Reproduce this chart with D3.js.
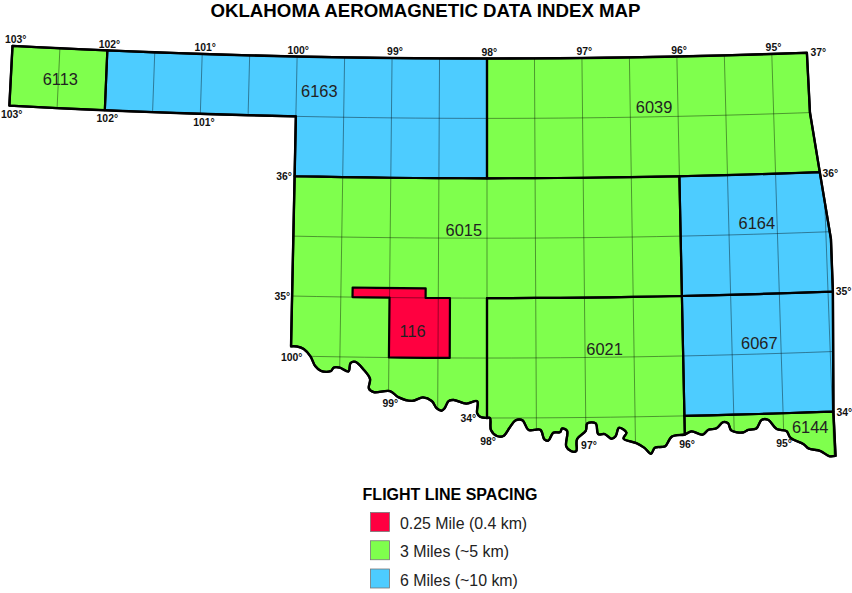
<!DOCTYPE html>
<html>
<head>
<meta charset="utf-8">
<script src="https://cdn.jsdelivr.net/npm/d3@7/dist/d3.min.js"></script>
<style>
  body { margin: 0; background: #fff; }
  text { font-family: "Liberation Sans", Arial, sans-serif; }
</style>
</head>
<body>
<svg id="map" width="852" height="593"></svg>
<script>
// everything below is [lon, lat]
var riverWest = [[-100.00,34.58],[-99.94,34.58],[-99.87,34.56],[-99.80,34.50],[-99.75,34.42],[-99.69,34.38],[-99.59,34.38],[-99.56,34.41],[-99.50,34.41],[-99.41,34.38],[-99.39,34.45],[-99.34,34.46],[-99.26,34.40],[-99.19,34.32],[-99.20,34.24],[-99.15,34.21],[-98.985,34.22],[-98.90,34.17],[-98.76,34.14],[-98.65,34.17],[-98.56,34.14],[-98.51,34.08],[-98.46,34.06],[-98.43,34.08],[-98.39,34.14],[-98.34,34.15],[-98.21,34.12],[-98.10,34.14],[-98.10,34.04],[-98.07,34.01],[-98.00,34.00]]
var riverMid = [[-98.00,34.00],[-97.97,34.00],[-97.96,33.90],[-97.90,33.85],[-97.835,33.85],[-97.77,33.92],[-97.71,33.98],[-97.64,33.98],[-97.58,33.90],[-97.46,33.90],[-97.42,33.82],[-97.38,33.81],[-97.33,33.875],[-97.26,33.88],[-97.24,33.91],[-97.19,33.89],[-97.20,33.76],[-97.15,33.72],[-97.10,33.72],[-97.09,33.82],[-97.00,33.89],[-96.985,33.95],[-96.90,33.95],[-96.875,33.86],[-96.81,33.86],[-96.74,33.82],[-96.70,33.84],[-96.665,33.91],[-96.59,33.87],[-96.62,33.82],[-96.49,33.78],[-96.41,33.74],[-96.345,33.69],[-96.305,33.74],[-96.24,33.745],[-96.20,33.75],[-96.13,33.83],[-96.00,33.845]]
var riverEast = [[-96.00,33.845],[-95.93,33.87],[-95.82,33.84],[-95.76,33.88],[-95.68,33.89],[-95.61,33.94],[-95.56,33.93],[-95.53,33.87],[-95.41,33.85],[-95.36,33.87],[-95.275,33.88],[-95.22,33.95],[-95.155,33.95],[-95.07,33.87],[-94.97,33.85],[-94.935,33.795],[-94.80,33.735],[-94.755,33.70],[-94.635,33.675],[-94.55,33.63],[-94.485,33.63]]
var eastEdge = [[-94.63,37],[-94.62,36.5],[-94.54,36],[-94.45,35.44],[-94.45,35],[-94.49,34],[-94.485,33.63]]

var blockNames = ["6113","6163","6039","6015","6164","6021","6067","6144","116"]
var blockSpacing = ["3","6","3","3","6","3","6","3","0.25"]
var blockLabelAt = [[-102.48,36.745],[-99.76,36.715],[-96.25,36.58],[-98.24,35.565],[-95.21,35.59],[-96.80,34.57],[-95.22,34.595],[-94.73,33.878],[-98.76,34.725]]

var topLabels = ["103°","102°","101°","100°","99°","98°","97°","96°","95°"]
var topLabelAt = [[-102.97,37.055],[-101.98,37.055],[-100.97,37.055],[-99.99,37.055],[-98.97,37.055],[-97.975,37.055],[-96.975,37.055],[-95.975,37.055],[-94.98,37.055]]
var panLabels = ["103°","102°","101°"]
var panLabelAt = [[-102.97,36.43],[-101.97,36.43],[-100.96,36.43]]
var sideLabels = ["37°","36°","35°","34°","36°","35°"]
var sideLabelAt = [[-94.51,37],[-94.43,35.99],[-94.34,35],[-94.38,33.99],[-100.11,36],[-100.10,35]]
var southLabels = ["100°","99°","34°","98°","97°","96°","95°"]
var southLabelAt = [[-99.99,34.49],[-98.98,34.12],[-98.19,34.0],[-97.99,33.81],[-96.97,33.77],[-95.98,33.76],[-95.0,33.75]]

var legendTitle = "FLIGHT LINE SPACING"
var legendKeys = ["0.25","3","6"]
var legendLabels = ["0.25 Mile (0.4 km)","3 Miles (~5 km)","6 Miles (~10 km)"]
var legendColors = ["#ff0040","#7fff4d","#4dccff"]

var title = "OKLAHOMA AEROMAGNETIC DATA INDEX MAP"

var svg = d3.select("#map")
var color = d3.scaleOrdinal().domain(legendKeys).range(legendColors)

// conic base, then separate x and y scales pinned on the corners of the grid
var base = d3.geoConicConformal().parallels([33,41.5]).rotate([98,0]).scale(1).translate([0,0])
var xScale = d3.scaleLinear().domain([base([-103,37])[0], base([-98,37])[0]]).range([12.5,487])
var yScale = d3.scaleLinear().domain([base([-98,37])[1], base([-98,34])[1]]).range([58.5,418])

function project(p){
    var b = base(p)
    return [xScale(b[0]), yScale(b[1])]
}
var line = d3.line().x(d => project(d)[0]).y(d => project(d)[1])
var smooth = d3.line().x(d => project(d)[0]).y(d => project(d)[1]).curve(d3.curveCatmullRom.alpha(0.5))

// parallels are curved so they need extra vertices
function parallel(lat, lon0, lon1){
    var step = lon1 > lon0 ? 0.25 : -0.25
    var pts = d3.range(lon0, lon1, step).map(lon => [lon, lat])
    pts.push([lon1, lat])
    return pts
}
function rev(a){ return a.slice().reverse() }

// straight part first, then an optional river part that gets the smooth curve
function ringPath(straight, river){
    var d = line(straight)
    if (river) d += smooth(river).replace("M","L")
    return d + "Z"
}

var east36 = eastEdge[2][0], east35 = eastEdge[4][0], east34 = eastEdge[5][0]

var rings = [
    ringPath([].concat(parallel(37,-103,-102), parallel(36.5,-102,-103))),
    ringPath([].concat(parallel(37,-102,-98), parallel(36,-98,-100), parallel(36.5,-100,-102))),
    ringPath([].concat(parallel(37,-98,eastEdge[0][0]), [eastEdge[1]], parallel(36,east36,-98))),
    ringPath([].concat(parallel(36,-100,-96), parallel(35,-96,-98)), rev(riverWest)),
    ringPath([].concat(parallel(36,-96,east36), [eastEdge[3]], parallel(35,east35,-96))),
    ringPath(parallel(35,-98,-96), rev(riverMid)),
    ringPath([].concat(parallel(35,-96,east35), parallel(34,east34,-96))),
    ringPath(parallel(34,-96,east34), rev(riverEast)),
    ringPath([].concat(parallel(35.08,-99.38,-98.63), parallel(35,-98.63,-98.38), parallel(34.5,-98.38,-99), parallel(35,-99,-99.38)))
]

var statePath = ringPath(
    [].concat(parallel(37,-103,eastEdge[0][0]), eastEdge.slice(1)),
    [].concat(rev(riverEast), rev(riverMid).slice(1), rev(riverWest).slice(1))
).replace("Z","") + line([[-100,36.5]].concat(parallel(36.5,-100,-103))).replace("M","L") + "Z"

svg.append("clipPath").attr("id","state").append("path").attr("d", statePath)

// fills
svg.append("g").selectAll("path").data(rings).join("path")
    .attr("d", d => d)
    .attr("fill", (d,i) => color(blockSpacing[i]))

// half degree grid
var grat = d3.geoGraticule().extent([[-103.5,33],[-94,37.5]]).step([0.5,0.5]).precision(0.25)
svg.append("g").attr("clip-path","url(#state)").selectAll("path").data(grat.lines()).join("path")
    .attr("d", d => line(d.coordinates))
    .attr("fill","none").attr("stroke","#000").attr("stroke-opacity",0.45).attr("stroke-width",0.9)

// block borders and state outline
svg.append("g").selectAll("path").data(rings).join("path")
    .attr("d", d => d)
    .attr("fill","none").attr("stroke","#000").attr("stroke-width",2.2).attr("stroke-linejoin","round")
svg.append("path").attr("d", statePath)
    .attr("fill","none").attr("stroke","#000").attr("stroke-width",2.4).attr("stroke-linejoin","round")

function labels(names, at, size, weight, fill){
    svg.append("g").selectAll("text").data(names).join("text")
        .attr("x", (d,i) => project(at[i])[0])
        .attr("y", (d,i) => project(at[i])[1])
        .attr("dy","0.36em").attr("text-anchor","middle")
        .attr("font-size",size).attr("font-weight",weight).attr("fill",fill)
        .text(d => d)
}
labels(blockNames, blockLabelAt, 16.4, "normal", "#222")
labels(topLabels, topLabelAt, 10.4, "bold", "#111")
labels(panLabels, panLabelAt, 10.4, "bold", "#111")
labels(sideLabels, sideLabelAt, 10.4, "bold", "#111")
labels(southLabels, southLabelAt, 10.4, "bold", "#111")

svg.append("text").attr("x",425.5).attr("y",10).attr("dy","0.36em").attr("text-anchor","middle")
    .attr("font-size",18.7).attr("font-weight","bold").text(title)

// legend
var legend = svg.append("g")
legend.append("text").attr("x",450).attr("y",494).attr("dy","0.36em").attr("text-anchor","middle")
    .attr("font-size",16).attr("font-weight","bold").text(legendTitle)
var legendY = d3.scalePoint().domain(legendKeys).range([522,578.5])
legend.selectAll("rect").data(legendKeys).join("rect")
    .attr("x",370.5).attr("y",d => legendY(d)-9.5).attr("width",19).attr("height",19)
    .attr("fill",d => color(d)).attr("stroke","#777").attr("stroke-width",0.8)
legend.selectAll("text.item").data(legendKeys).join("text").attr("class","item")
    .attr("x",400).attr("y",d => legendY(d)+1.5).attr("dy","0.36em")
    .attr("font-size",15.9).attr("fill","#222")
    .text((d,i) => legendLabels[i])
</script>
</body>
</html>
